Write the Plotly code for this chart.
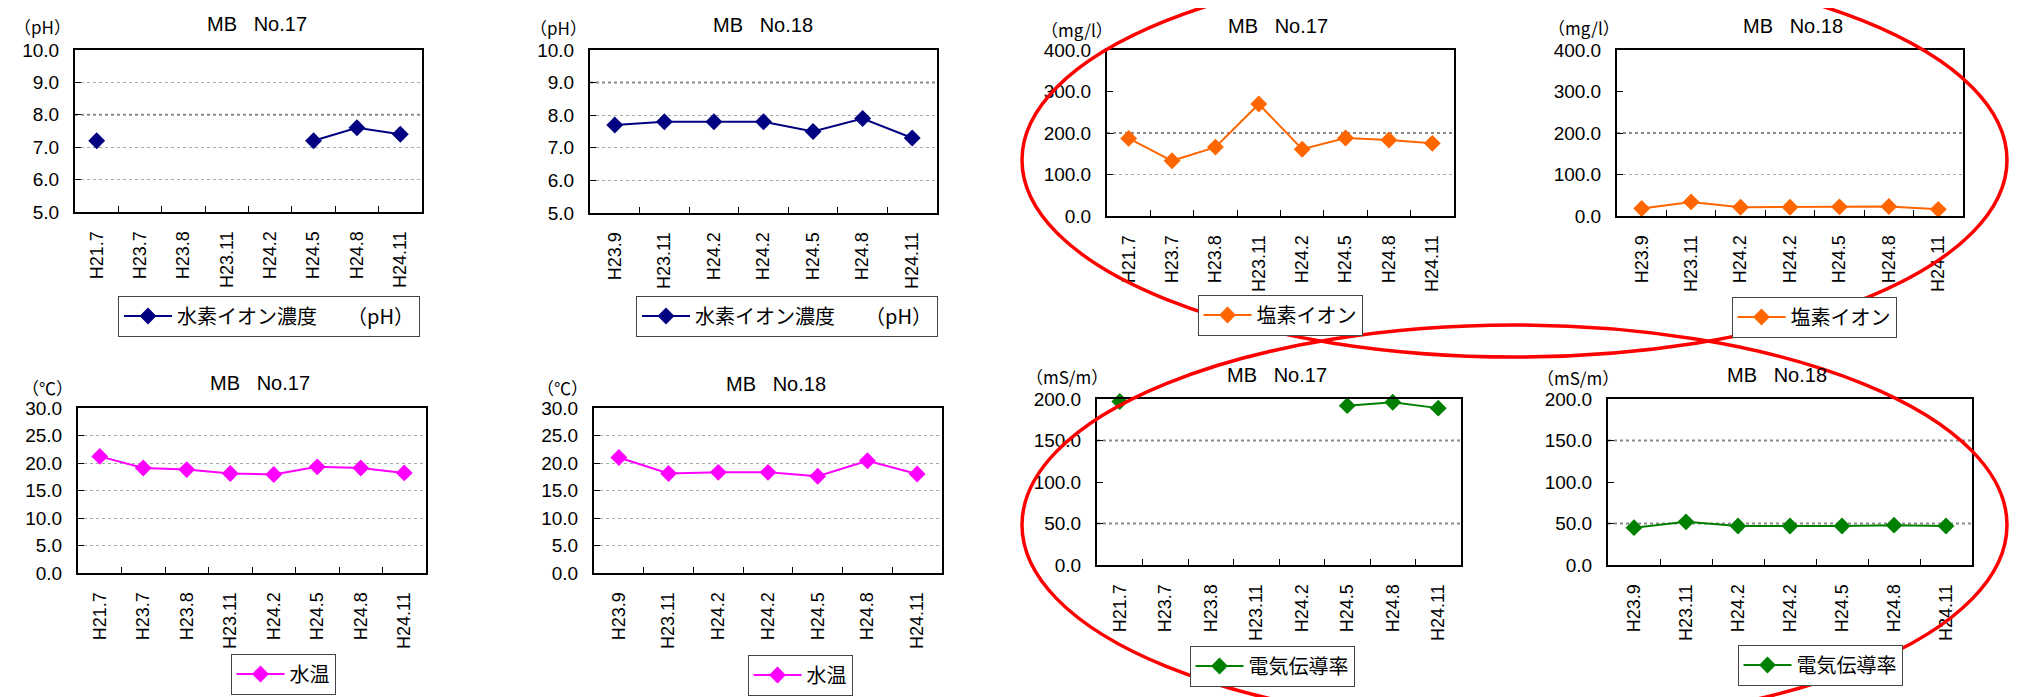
import plotly.graph_objects as go

# categories (survey dates)
cats_17 = ["H21.7", "H23.7", "H23.8", "H23.11", "H24.2", "H24.5", "H24.8", "H24.11"]
cats_18 = ["H23.9", "H23.11", "H24.2", "H24.2", "H24.5", "H24.8", "H24.11"]

# series values
ph_17 = [7.2, None, None, None, None, 7.2, 7.6, 7.4]
ph_18 = [7.7, 7.8, 7.8, 7.8, 7.5, 7.9, 7.3]
cl_17 = [187, 133, 166, 270, 161, 188, 183, 175]
cl_18 = [18, 34, 21, 21, 22, 23, 16]
temp_17 = [21.2, 19.1, 18.8, 18.1, 17.9, 19.3, 19.1, 18.2]
temp_18 = [21.0, 18.1, 18.3, 18.3, 17.6, 20.4, 18.0]
ec_17 = [197, None, None, None, None, 192, 196, 189]
ec_18 = [45, 52, 47, 47, 47, 48, 47]

# the page body adds an 8px margin, so the figure is a bit smaller than the window
PAD = 8
W, H = 2018 - PAD, 697 - PAD


def fx(x):
    return (x - PAD) / W


def fy(y):
    return 1 - (y - PAD) / H


# one entry per small chart: data, style and where it sits on the page (pixels)
panels = [
    dict(cats=cats_17, vals=ph_17, color="#000080", name="水素イオン濃度\u3000\u3000（pH）", unit="（pH）",
         title="MB\u00a0\u00a0\u00a0No.17", yr=[5, 10], dt=1, grid=[6, 7, 9], strong=[8],
         box=(75, 50, 422, 212), tpos=(257, 24), upos=(42, 26), lpos=(269, 316)),
    dict(cats=cats_18, vals=ph_18, color="#000080", name="水素イオン濃度\u3000\u3000（pH）", unit="（pH）",
         title="MB\u00a0\u00a0\u00a0No.18", yr=[5, 10], dt=1, grid=[6, 7, 8], strong=[9],
         box=(590, 50, 937, 213), tpos=(763, 25), upos=(558, 27), lpos=(787, 316)),
    dict(cats=cats_17, vals=cl_17, color="#ff6600", name="塩素イオン", unit="（mg/l）",
         title="MB\u00a0\u00a0\u00a0No.17", yr=[0, 400], dt=100, grid=[100], strong=[200],
         box=(1107, 50, 1454, 216), tpos=(1278, 26), upos=(1077, 29), lpos=(1280, 315)),
    dict(cats=cats_18, vals=cl_18, color="#ff6600", name="塩素イオン", unit="（mg/l）",
         title="MB\u00a0\u00a0\u00a0No.18", yr=[0, 400], dt=100, grid=[100], strong=[200],
         box=(1617, 50, 1963, 216), tpos=(1793, 26), upos=(1584, 27), lpos=(1814, 317)),
    dict(cats=cats_17, vals=temp_17, color="#ff00ff", name="水温", unit="（℃）",
         title="MB\u00a0\u00a0\u00a0No.17", yr=[0, 30], dt=5, grid=[5, 10, 15, 20, 25], strong=[],
         box=(78, 408, 426, 573), tpos=(260, 383), upos=(47, 387), lpos=(283, 674)),
    dict(cats=cats_18, vals=temp_18, color="#ff00ff", name="水温", unit="（℃）",
         title="MB\u00a0\u00a0\u00a0No.18", yr=[0, 30], dt=5, grid=[5, 10, 15, 20, 25], strong=[],
         box=(594, 408, 942, 573), tpos=(776, 384), upos=(562, 387), lpos=(800, 675)),
    dict(cats=cats_17, vals=ec_17, color="#008000", name="電気伝導率", unit="（mS/m）",
         title="MB\u00a0\u00a0\u00a0No.17", yr=[0, 200], dt=50, grid=[], strong=[50, 150],
         box=(1097, 399, 1461, 565), tpos=(1277, 375), upos=(1067, 376), lpos=(1272, 666)),
    dict(cats=cats_18, vals=ec_18, color="#008000", name="電気伝導率", unit="（mS/m）",
         title="MB\u00a0\u00a0\u00a0No.18", yr=[0, 200], dt=50, grid=[], strong=[50, 150],
         box=(1608, 399, 1972, 565), tpos=(1777, 375), upos=(1578, 377), lpos=(1820, 665)),
]

fig = go.Figure()
layout = {}
annotations = []
shapes = []

for i, p in enumerate(panels):
    n = i + 1
    sx = "" if n == 1 else str(n)
    leg = "legend" if n == 1 else "legend" + str(n)
    xs = list(range(len(p["cats"])))

    fig.add_trace(go.Scatter(
        x=xs, y=p["vals"], name=p["name"], mode="lines+markers",
        line=dict(color=p["color"], width=2),
        marker=dict(symbol="diamond", size=13, color=p["color"]),
        xaxis="x" + sx, yaxis="y" + sx, legend=leg, cliponaxis=False,
    ))

    x0, y0, x1, y1 = p["box"]
    layout["xaxis" + sx] = dict(
        domain=[fx(x0), fx(x1)], anchor="y" + sx, range=[-0.5, len(xs) - 0.5],
        tickmode="array", tickvals=xs, ticktext=p["cats"], tickangle=-90, ticks="",
        tickfont=dict(family="Liberation Sans", size=18, color="black"),
        ticklabelstandoff=10, automargin=False,
        showline=True, mirror=True, linecolor="black", linewidth=2, showgrid=False, zeroline=False,
        minor=dict(tickmode="array", tickvals=[k + 0.5 for k in xs[:-1]], ticks="inside",
                   ticklen=6, tickcolor="black", tickwidth=1, showgrid=False),
    )
    layout["yaxis" + sx] = dict(
        domain=[fy(y1), fy(y0)], anchor="x" + sx, range=p["yr"], dtick=p["dt"],
        tickformat=".1f", ticks="inside", ticklen=6, tickcolor="black",
        tickfont=dict(family="Liberation Sans", size=19, color="black"),
        ticklabelstandoff=10, automargin=False,
        showline=True, mirror=True, linecolor="black", linewidth=2, showgrid=False, zeroline=False,
        minor=dict(tickmode="array", tickvals=p["grid"], ticks="", showgrid=True,
                   gridcolor="#a8a8a8", gridwidth=1, griddash="dot"),
    )
    # darker reference lines
    for v in p["strong"]:
        shapes.append(dict(type="line", xref="x" + sx + " domain", yref="y" + sx,
                           x0=0, x1=1, y0=v, y1=v, layer="below",
                           line=dict(color="#8a8a8a", width=2, dash="dot")))
    layout[leg] = dict(
        x=fx(p["lpos"][0]), y=fy(p["lpos"][1]), xanchor="center", yanchor="middle",
        bordercolor="#444", borderwidth=1, bgcolor="white", itemwidth=48,
        font=dict(family="Noto Sans CJK JP", size=20, color="black"),
    )
    annotations.append(dict(
        text=p["title"], x=fx(p["tpos"][0]), y=fy(p["tpos"][1]), xref="paper", yref="paper",
        showarrow=False, xanchor="center", yanchor="middle",
        font=dict(family="Liberation Sans", size=20, color="black"),
    ))
    annotations.append(dict(
        text=p["unit"], x=fx(p["upos"][0]), y=fy(p["upos"][1]), xref="paper", yref="paper",
        showarrow=False, xanchor="center", yanchor="middle",
        font=dict(family="Noto Sans CJK JP", size=17, color="black"),
    ))

# red hand-drawn ellipses marking the right-hand charts
ellipses = [(1022, -37, 2007, 357), (1022, 325, 2007, 725)]
for e in ellipses:
    shapes.append(dict(type="circle", xref="paper", yref="paper",
                       x0=fx(e[0]), x1=fx(e[2]), y0=fy(e[3]), y1=fy(e[1]),
                       line=dict(color="#ff0000", width=3.5)))

fig.update_layout(
    width=W, height=H, margin=dict(l=0, r=0, t=0, b=0, autoexpand=False),
    paper_bgcolor="white", plot_bgcolor="white",
    annotations=annotations, shapes=shapes, showlegend=True,
    **layout
)

fig.write_html("out.html")
